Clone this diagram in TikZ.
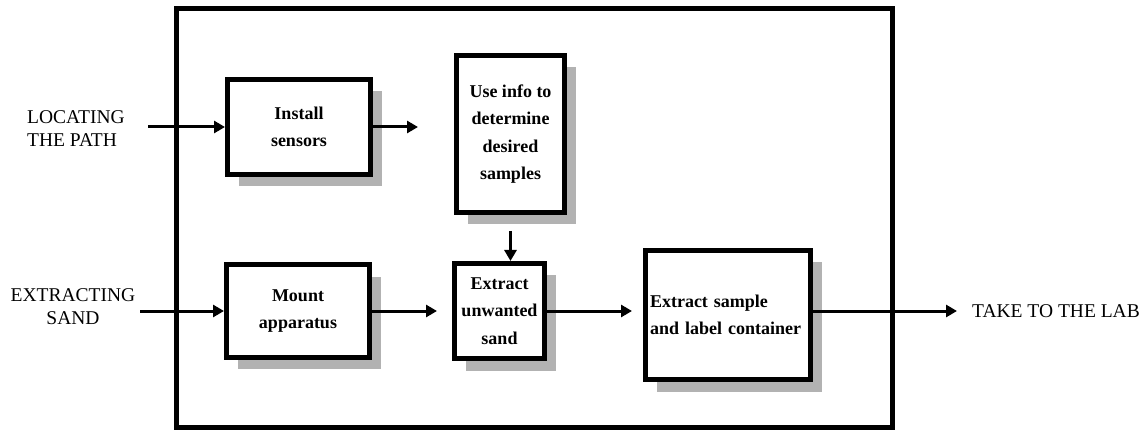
\documentclass[tikz,border=0pt]{standalone}
\usepackage{fontspec}
\setmainfont{Liberation Serif}
\usetikzlibrary{arrows.meta,shadows}

\begin{document}
\begin{tikzpicture}[x=1pt,y=-1pt,
    stepbox/.style={draw,line width=5pt,fill=white,align=center,inner sep=0pt,
      font=\fontsize{18}{27.5}\selectfont\bfseries,
      drop shadow={shadow xshift=11pt,shadow yshift=-12pt,fill=black!30,opacity=1}},
    arr/.style={line width=3pt,-{Triangle[length=11pt,width=12pt]}},
    side/.style={font=\fontsize{19.5}{23}\selectfont,inner sep=0pt}]
  \useasboundingbox (0,0) rectangle (1148,430);
  \draw[line width=5pt] (176,9) rectangle (892,427);

  \node[stepbox,minimum width=143pt,minimum height=95pt] (install) at (299,127) {Install\\sensors};
  \node[stepbox,minimum width=108pt,minimum height=157pt] (use) at (510.5,134) {Use info to\\determine\\desired\\samples};
  \node[stepbox,minimum width=143pt,minimum height=92pt] (mount) at (298,311) {Mount\\apparatus};
  \node[stepbox,minimum width=90pt,minimum height=95pt] (unw) at (499.5,311) {Extract\\unwanted\\sand};
  \node[stepbox,minimum width=165pt,minimum height=129pt,align=left,text width=156pt] (sample) at (728,315) {Extract sample\\and label container};

  \node[side,align=left,anchor=west] (path) at (27,128.5) {LOCATING\\THE PATH};
  \node[side,align=center] (sand) at (73,307) {EXTRACTING\\SAND};
  \node[side,anchor=west] (lab) at (972,311) {TAKE TO THE LAB};

  \coordinate (p1) at (148,127);
  \coordinate (p2) at (418,127);
  \coordinate (p3) at (140,311);
  \coordinate (p4) at (957,311);
  \draw[arr] (p1) -- (install.west);
  \draw[arr] (install.east) -- (p2);
  \draw[arr,shorten <=16pt] (use.south) -- (use.south |- unw.north);
  \draw[arr] (p3) -- (mount.west);
  \draw[arr,shorten >=15pt] (mount.east) -- (unw.west);
  \draw[arr,shorten >=11pt] (unw.east) -- (unw.east -| sample.west);
  \draw[arr] (sample.east |- unw.east) -- (p4);
\end{tikzpicture}
\end{document}
